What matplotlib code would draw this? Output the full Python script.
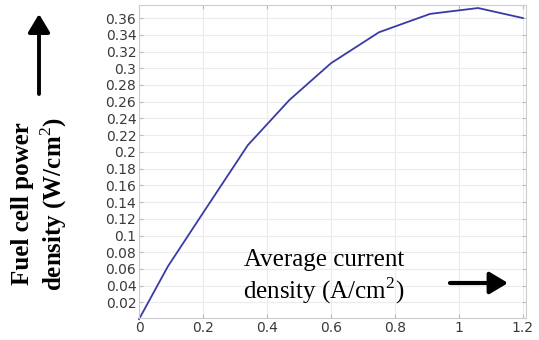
import matplotlib
matplotlib.use("Agg")
import matplotlib.pyplot as plt

current_density = [0.0, 0.09, 0.20, 0.34, 0.47, 0.60, 0.75, 0.91, 1.06, 1.20]
power_density = [0.0, 0.063, 0.127, 0.208, 0.262, 0.306, 0.343, 0.365, 0.372, 0.360]
x_ticks = [0, 0.2, 0.4, 0.6, 0.8, 1.0, 1.2]
x_tick_labels = ["0", "0.2", "0.4", "0.6", "0.8", "1", "1.2"]
y_ticks = [0.02, 0.04, 0.06, 0.08, 0.10, 0.12, 0.14, 0.16, 0.18, 0.20,
           0.22, 0.24, 0.26, 0.28, 0.30, 0.32, 0.34, 0.36]
y_tick_labels = ["0.02", "0.04", "0.06", "0.08", "0.1", "0.12", "0.14", "0.16", "0.18", "0.2",
                 "0.22", "0.24", "0.26", "0.28", "0.3", "0.32", "0.34", "0.36"]

plt.rcParams['mathtext.fontset'] = 'custom'
plt.rcParams['mathtext.rm'] = 'Liberation Serif'
plt.rcParams['mathtext.bf'] = 'Liberation Serif:bold'

fig = plt.figure(figsize=(5.39, 3.40), dpi=100)
ax = fig.add_axes([0.258, 0.065, 0.718, 0.920])
ax.plot(current_density, power_density, color="#3a3aa6", lw=1.3, clip_on=False)
ax.set_xlim(0, 1.21)
ax.set_ylim(0.0015, 0.3755)
ax.set_xticks(x_ticks)
ax.set_xticklabels(x_tick_labels)
ax.set_yticks(y_ticks)
ax.set_yticklabels(y_tick_labels)
ax.grid(True, color="#ececec", lw=0.8)
ax.tick_params(direction="in", length=3, color="#bbbbbb", labelsize=10,
               labelcolor="#3a3a3a", top=True, right=True, pad=2)
for s in ax.spines.values():
    s.set_color("#cccccc")
    s.set_linewidth(0.8)

fig.text(0.074, 0.40, "Fuel cell power\ndensity (W/cm$^2$)", rotation=90,
         family="Liberation Serif", fontweight="bold", fontsize=18,
         ha="center", va="center", linespacing=1.2)
fig.text(0.601, 0.185, "Average current\ndensity (A/cm$^2$)",
         family="Liberation Serif", fontsize=18, ha="center", va="center",
         linespacing=1.2)
fig.patches.append(matplotlib.patches.FancyArrowPatch(
    (39 / 539, 1 - 94 / 340), (39 / 539, 1 - 14 / 340), transform=fig.transFigure,
    arrowstyle="-|>,head_length=0.55,head_width=0.33", color="black",
    lw=2.8, mutation_scale=20, shrinkA=0, shrinkB=0))
fig.patches.append(matplotlib.patches.FancyArrowPatch(
    (450 / 539, 1 - 283 / 340), (508 / 539, 1 - 283 / 340), transform=fig.transFigure,
    arrowstyle="-|>,head_length=0.55,head_width=0.33", color="black",
    lw=3.0, mutation_scale=20, shrinkA=0, shrinkB=0))

fig.savefig("out.png", dpi=100)
